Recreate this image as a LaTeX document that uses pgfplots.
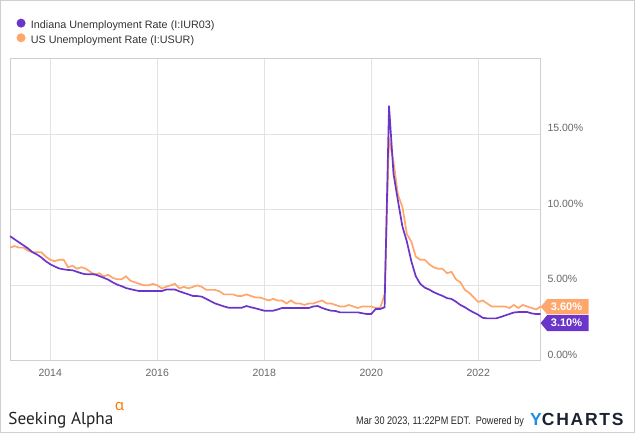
\documentclass[border=0pt]{standalone}
\usepackage{fontspec}
\setmainfont{Liberation Sans}
\newfontfamily\narrowfont[FakeStretch=0.83]{Liberation Sans}
\newfontfamily\logofont{PT Sans}
\newfontfamily\greekfont{Noto Sans}
\newfontfamily\ychfont[LetterSpace=10]{Liberation Sans}
\usepackage{pgfplots}
\pgfplotsset{compat=1.18}
\usepackage{pgfplotstable}

\definecolor{inpurple}{HTML}{6A35CA}
\definecolor{usorange}{HTML}{FFA66C}
\definecolor{gridc}{HTML}{E3E3E3}
\definecolor{framec}{HTML}{CFCFCF}
\definecolor{tickc}{HTML}{666666}
\definecolor{legc}{HTML}{333333}
\definecolor{ychblue}{HTML}{1C8FE3}
\definecolor{ychdark}{HTML}{1B2232}
\definecolor{saorange}{HTML}{FF7A00}

% month index i: 0 = Mar 2013 ... 119 = Feb 2023
\pgfplotstableread{
i v
0 7.5
1 7.6
2 7.5
3 7.5
4 7.3
5 7.2
6 7.2
7 7.2
8 6.9
9 6.7
10 6.6
11 6.7
12 6.7
13 6.2
14 6.3
15 6.1
16 6.2
17 6.1
18 5.9
19 5.7
20 5.8
21 5.6
22 5.7
23 5.5
24 5.4
25 5.4
26 5.6
27 5.3
28 5.2
29 5.1
30 5.0
31 5.0
32 5.1
33 5.0
34 4.8
35 4.9
36 5.0
37 5.1
38 4.8
39 4.9
40 4.8
41 4.9
42 5.0
43 4.9
44 4.7
45 4.7
46 4.7
47 4.6
48 4.4
49 4.4
50 4.4
51 4.3
52 4.3
53 4.4
54 4.3
55 4.2
56 4.2
57 4.1
58 4.0
59 4.1
60 4.0
61 4.0
62 3.8
63 4.0
64 3.8
65 3.8
66 3.7
67 3.8
68 3.8
69 3.9
70 4.0
71 3.8
72 3.8
73 3.7
74 3.6
75 3.6
76 3.7
77 3.6
78 3.5
79 3.6
80 3.6
81 3.6
82 3.5
83 3.5
84 4.4
85 14.7
86 13.2
87 11.0
88 10.2
89 8.4
90 7.9
91 6.9
92 6.7
93 6.7
94 6.4
95 6.2
96 6.1
97 6.1
98 5.8
99 5.9
100 5.4
101 5.2
102 4.7
103 4.5
104 4.2
105 3.9
106 4.0
107 3.8
108 3.6
109 3.6
110 3.6
111 3.6
112 3.5
113 3.7
114 3.5
115 3.7
116 3.6
117 3.5
118 3.4
119 3.6
}\us

\pgfplotstableread{
i v
0 8.26
1 8.05
2 7.85
3 7.65
4 7.45
5 7.2
6 7.05
7 6.85
8 6.6
9 6.4
10 6.25
11 6.12
12 6.06
13 6.02
14 6.0
15 5.9
16 5.8
17 5.73
18 5.73
19 5.73
20 5.62
21 5.5
22 5.38
23 5.2
24 5.05
25 4.95
26 4.82
27 4.75
28 4.68
29 4.62
30 4.62
31 4.62
32 4.62
33 4.62
34 4.62
35 4.72
36 4.73
37 4.72
38 4.6
39 4.5
40 4.4
41 4.3
42 4.29
43 4.25
44 4.1
45 3.95
46 3.8
47 3.7
48 3.6
49 3.52
50 3.52
51 3.52
52 3.52
53 3.63
54 3.55
55 3.48
56 3.4
57 3.32
58 3.32
59 3.32
60 3.4
61 3.5
62 3.5
63 3.5
64 3.5
65 3.5
66 3.5
67 3.5
68 3.6
69 3.63
70 3.5
71 3.4
72 3.32
73 3.3
74 3.21
75 3.21
76 3.21
77 3.21
78 3.21
79 3.15
80 3.1
81 3.1
82 3.43
83 3.43
84 3.54
85 16.9
86 12.4
87 10.6
88 8.9
89 7.9
90 6.6
91 5.6
92 5.1
93 4.85
94 4.72
95 4.55
96 4.42
97 4.3
98 4.15
99 4.1
100 3.92
101 3.7
102 3.55
103 3.36
104 3.2
105 3.05
106 2.85
107 2.81
108 2.81
109 2.81
110 2.9
111 3.0
112 3.1
113 3.2
114 3.23
115 3.23
116 3.23
117 3.14
118 3.1
119 3.1
}\indiana

\begin{document}
\begin{tikzpicture}[x=1bp,y=1bp]
\useasboundingbox (0,0) rectangle (635,433);
\draw[framec, line width=1bp] (0.5,0.5) rectangle (634.5,432.5);
\begin{axis}[
  at={(10.1bp,72.2bp)}, anchor=south west,
  scale only axis, width=530.5bp, height=301.8bp,
  xmin=0, xmax=119, ymin=0, ymax=20,
  axis line style={draw=framec, line width=1bp},
  grid=major, major grid style={draw=gridc, line width=1bp},
  xtick={9,33,57,81,105}, xticklabels={2014,2016,2018,2020,2022},
  ytick={0,5,10,15}, yticklabels={0.00\%,5.00\%,10.00\%,15.00\%},
  yticklabel pos=right,
  major tick length=0pt,
  /pgf/number format/assume math mode=true,
  tick label style={font=\fontsize{10.5bp}{12bp}\selectfont, text=tickc, inner sep=0pt},
  x tick label style={anchor=north, yshift=-8.5bp},
  y tick label style={anchor=west, xshift=6.7bp, yshift=6.3bp},
  clip=false,
  legend style={draw=none, fill=none, at={(axis description cs:0,1)}, anchor=north west,
    xshift=6.3bp, yshift=40.5bp, inner sep=0pt, row sep=2bp, column sep=5.4bp,
    font=\fontsize{10.8bp}{12bp}\selectfont, text=legc,
    nodes={inner sep=0pt, text height=7.5bp, text depth=2.5bp}},
  legend cell align=left,
  reverse legend,
  legend image code/.code={\fill[#1] (3.6bp,3.2bp) circle (3.6bp);},
]
\addplot[usorange, line width=1.7bp] table[x=i,y=v]{\us};
\addlegendentry{US Unemployment Rate (I:USUR)}
\addplot[inpurple, line width=1.7bp] table[x=i,y=v]{\indiana};
\addlegendentry{Indiana Unemployment Rate (I:IUR03)}

\fill[usorange] (axis cs:119,3.6) ++(0,-0.3bp) -- ++(6.6bp,7.65bp) -- ++(41.4bp,0) -- ++(0,-15.3bp) -- ++(-41.4bp,0) -- cycle;
\node[text=white, inner sep=0pt, font=\bfseries\fontsize{11bp}{12bp}\selectfont] at ([xshift=25.9bp,yshift=-0.3bp]axis cs:119,3.6) {3.60\%};
\fill[inpurple] (axis cs:119,3.6) ++(0,-16.6bp) -- ++(6.6bp,8bp) -- ++(41.4bp,0) -- ++(0,-16bp) -- ++(-41.4bp,0) -- cycle;
\node[text=white, inner sep=0pt, font=\bfseries\fontsize{11bp}{12bp}\selectfont] at ([xshift=25.9bp,yshift=-16.6bp]axis cs:119,3.6) {3.10\%};
\end{axis}

\node[anchor=base west, inner sep=0pt, text=black!87, font=\logofont\fontsize{17.2bp}{19bp}\selectfont] at (8.3,8.7) {Seeking Alpha};
\node[anchor=center, inner sep=0pt, text=saorange, font=\greekfont\fontsize{15bp}{16bp}\selectfont] at (119.5,26.5) {α};
\node[anchor=base west, inner sep=0pt, text=black!85, font=\narrowfont\fontsize{11bp}{12bp}\selectfont] at (356,8) {Mar 30 2023, 11:22PM EDT.\ \ Powered by};
\node[anchor=base west, inner sep=0pt, font=\ychfont\bfseries\fontsize{17.5bp}{18bp}\selectfont] at (530,7) {\textcolor{ychblue}{Y}\textcolor{ychdark}{CHARTS}};
\end{tikzpicture}
\end{document}
